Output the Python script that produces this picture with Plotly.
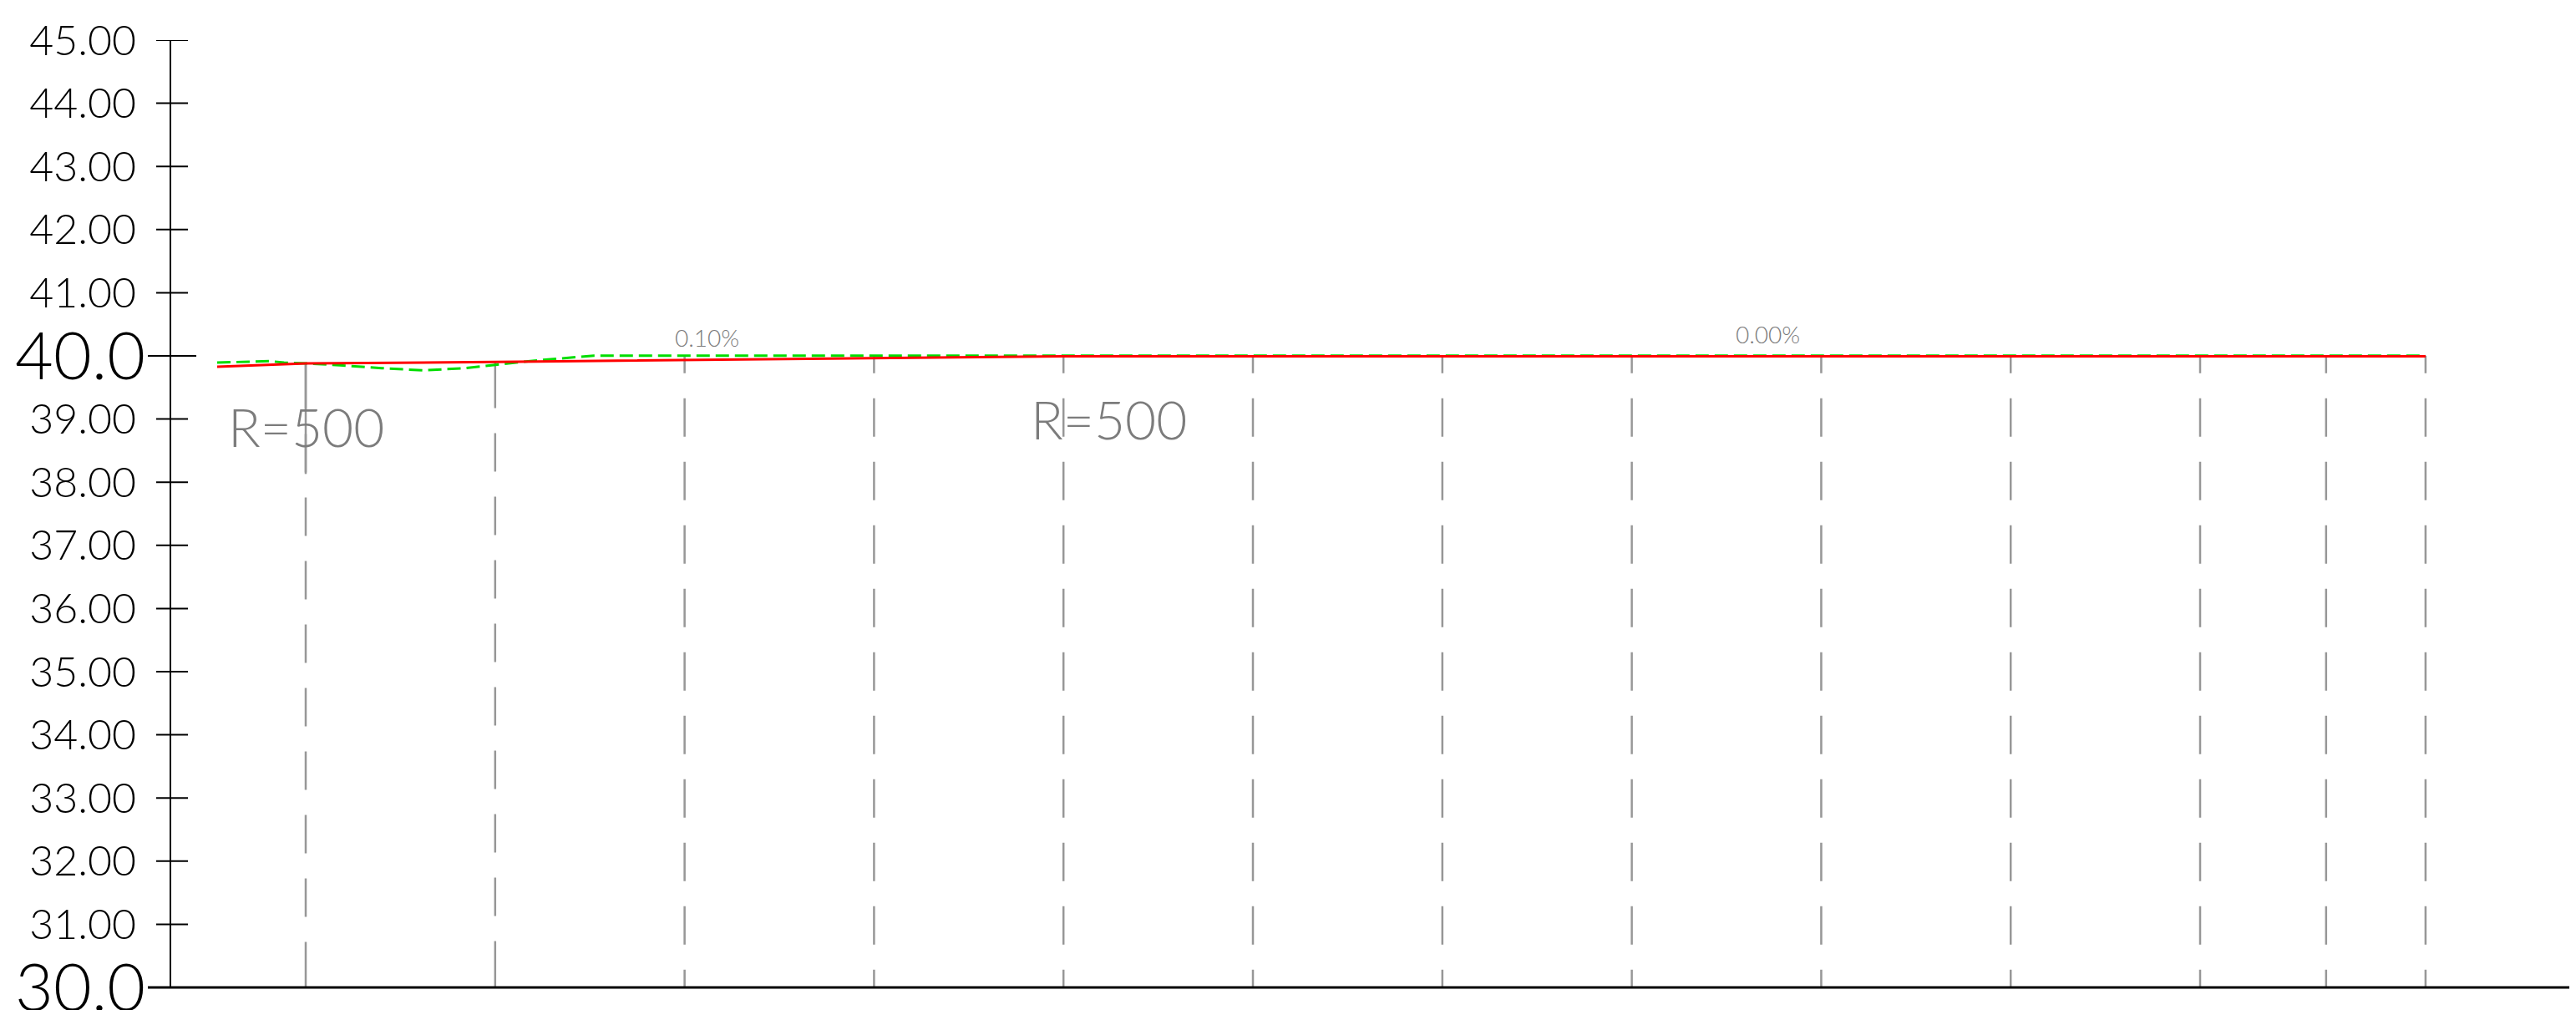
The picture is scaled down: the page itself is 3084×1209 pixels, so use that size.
import numpy as np
import plotly.graph_objects as go

# ---------------- data ----------------
# red line: stations and elevations
red_station = [10.65, 20.09, 42.40, 68.85, 100.0, 243.8]
red_elev = [39.828, 39.881, 39.907, 39.947, 39.993, 39.993]

# green dashed line: stations and elevations
green_station = [10.65, 16.21, 17.71, 20.09, 23.62, 28.03, 32.43, 36.84,
                 40.02, 42.40, 44.16, 50.42, 243.8]
green_elev = [39.894, 39.917, 39.894, 39.881, 39.851, 39.806, 39.771, 39.806,
              39.858, 39.894, 39.925, 40.004, 40.004]

# vertical station lines
grid_stations = [20, 40, 60, 80, 100, 120, 140, 160, 180, 200, 220, 233.3, 243.8]
# vertical curve marker (solid part) station and lower end elevation
vc_mark_station = [20.0]
vc_mark_bottom = [38.13]

# y axis ticks
ytick_values = list(range(30, 46))
ytick_labels = ["30.0", "31.00", "32.00", "33.00", "34.00", "35.00", "36.00",
                "37.00", "38.00", "39.00", "40.0", "41.00", "42.00", "43.00",
                "44.00", "45.00"]
major_ticks = [30, 40]

# text labels
curve_labels = ["R=500", "R=500"]
curve_label_station = [20.0, 104.8]
curve_label_elev = [38.876, 38.995]
grade_labels = ["0.10%", "0.00%"]
grade_label_station = [62.4, 174.4]
grade_label_elev = [40.29, 40.34]

# ---------------- layout constants ----------------
PAGE_W, PAGE_H = 3084, 1209
BODY = 8                      # default page margin of the browser
W, H = PAGE_W - BODY, PAGE_H - BODY
AXIS_X, TOP_Y, BOTTOM_Y = 205, 48, 1182   # wanted on-screen positions
ML = AXIS_X - BODY
MT = TOP_Y - BODY
MB = H - (BOTTOM_Y - BODY)
MR = 0
PLOT_W = W - ML - MR
PLOT_H = H - MT - MB
Y_RANGE = [30, 45]
PX_PER_Y = PLOT_H / (Y_RANGE[1] - Y_RANGE[0])
X_PX_PER_UNIT = 11.34
X0_SCREEN = 139.2
X_RANGE = [(AXIS_X - X0_SCREEN) / X_PX_PER_UNIT,
           (AXIS_X - X0_SCREEN + PLOT_W) / X_PX_PER_UNIT]

FONT = "Lato Light, Lato, Liberation Sans Narrow, Roboto, sans-serif"
GREY_LINE = "#979797"
GREY_TEXT = "#7c7c7c"


def dash_for(length_px):
    e = ((length_px - 68) % 76) / 2 + 19
    n = int(round((length_px - 2 * e - 30) / 76))
    parts = [e, 30] + [46, 30] * max(n, 0)
    return ",".join(f"{p:.1f}px" for p in parts)


def px(screen_x):
    return (screen_x - AXIS_X) / PLOT_W


fig = go.Figure()

fig.add_trace(go.Scatter(
    x=green_station, y=green_elev, mode="lines",
    line=dict(color="#00dd00", width=3, dash="16px,7px"),
    hoverinfo="skip", showlegend=False))
fig.add_trace(go.Scatter(
    x=red_station, y=red_elev, mode="lines",
    line=dict(color="#ff0000", width=3),
    hoverinfo="skip", showlegend=False))
# empty trace on the overlay axis that carries the large tick labels
fig.add_trace(go.Scatter(x=[None], y=[None], yaxis="y2", mode="lines",
                         hoverinfo="skip", showlegend=False))

shapes = []
for s in grid_stations:
    top = max(np.interp(s, red_station, red_elev), np.interp(s, green_station, green_elev))
    L = (top - Y_RANGE[0]) * PX_PER_Y
    shapes.append(dict(type="line", xref="x", yref="y", x0=s, x1=s,
                       y0=Y_RANGE[0], y1=top, layer="below",
                       line=dict(color=GREY_LINE, width=2.5, dash=dash_for(L))))
for s, b in zip(vc_mark_station, vc_mark_bottom):
    top = max(np.interp(s, red_station, red_elev), np.interp(s, green_station, green_elev))
    shapes.append(dict(type="line", xref="x", yref="y", x0=s, x1=s,
                       y0=b, y1=top, layer="below",
                       line=dict(color=GREY_LINE, width=2.5)))

# x baseline (extends a little left of the y axis)
shapes.append(dict(type="line", xref="paper", yref="paper",
                   x0=px(177), x1=1, y0=0, y1=0,
                   line=dict(color="black", width=3)))
# crossing ticks on the y axis
for v in ytick_values:
    a, b = (177, 235) if v in major_ticks else (187, 225)
    shapes.append(dict(type="line", xref="paper", yref="y",
                       x0=px(a), x1=px(b), y0=v, y1=v,
                       line=dict(color="black", width=2)))

annotations = []
for t, s, e in zip(curve_labels, curve_label_station, curve_label_elev):
    annotations.append(dict(text=t, x=s, y=e, xref="x", yref="y",
                            xanchor="center", yanchor="middle", showarrow=False,
                            font=dict(family=FONT, size=64, color=GREY_TEXT, weight=300)))
for t, s, e in zip(grade_labels, grade_label_station, grade_label_elev):
    annotations.append(dict(text=t, x=s, y=e, xref="x", yref="y",
                            xanchor="center", yanchor="middle", showarrow=False,
                            font=dict(family=FONT, size=28, color=GREY_TEXT, weight=300)))

small_vals = [v for v in ytick_values if v not in major_ticks]
small_text = [l for v, l in zip(ytick_values, ytick_labels) if v not in major_ticks]
big_vals = [v for v in ytick_values if v in major_ticks]
big_text = [l for v, l in zip(ytick_values, ytick_labels) if v in major_ticks]

fig.update_layout(
    width=W, height=H,
    margin=dict(l=ML, r=MR, t=MT, b=MB, pad=0, autoexpand=False),
    paper_bgcolor="white", plot_bgcolor="white",
    showlegend=False,
    shapes=shapes, annotations=annotations,
    xaxis=dict(range=X_RANGE, showgrid=False, zeroline=False, showline=False,
               showticklabels=False, ticks="", fixedrange=True, automargin=False),
    yaxis=dict(range=Y_RANGE, showgrid=False, zeroline=False, showline=True,
               linecolor="black", linewidth=2, ticks="",
               tickvals=small_vals, ticktext=small_text,
               tickfont=dict(family=FONT, size=50, color="black", weight=300),
               ticklabelstandoff=30, ticklabeloverflow="allow", fixedrange=True,
               automargin=False),
    yaxis2=dict(range=Y_RANGE, overlaying="y", side="left", anchor="x",
                showgrid=False, zeroline=False, showline=False, ticks="",
                tickvals=big_vals, ticktext=big_text,
                tickfont=dict(family=FONT, size=79, color="black", weight=300),
                ticklabelstandoff=30, ticklabeloverflow="allow", fixedrange=True,
                automargin=False),
)

fig.write_html("out.html")
